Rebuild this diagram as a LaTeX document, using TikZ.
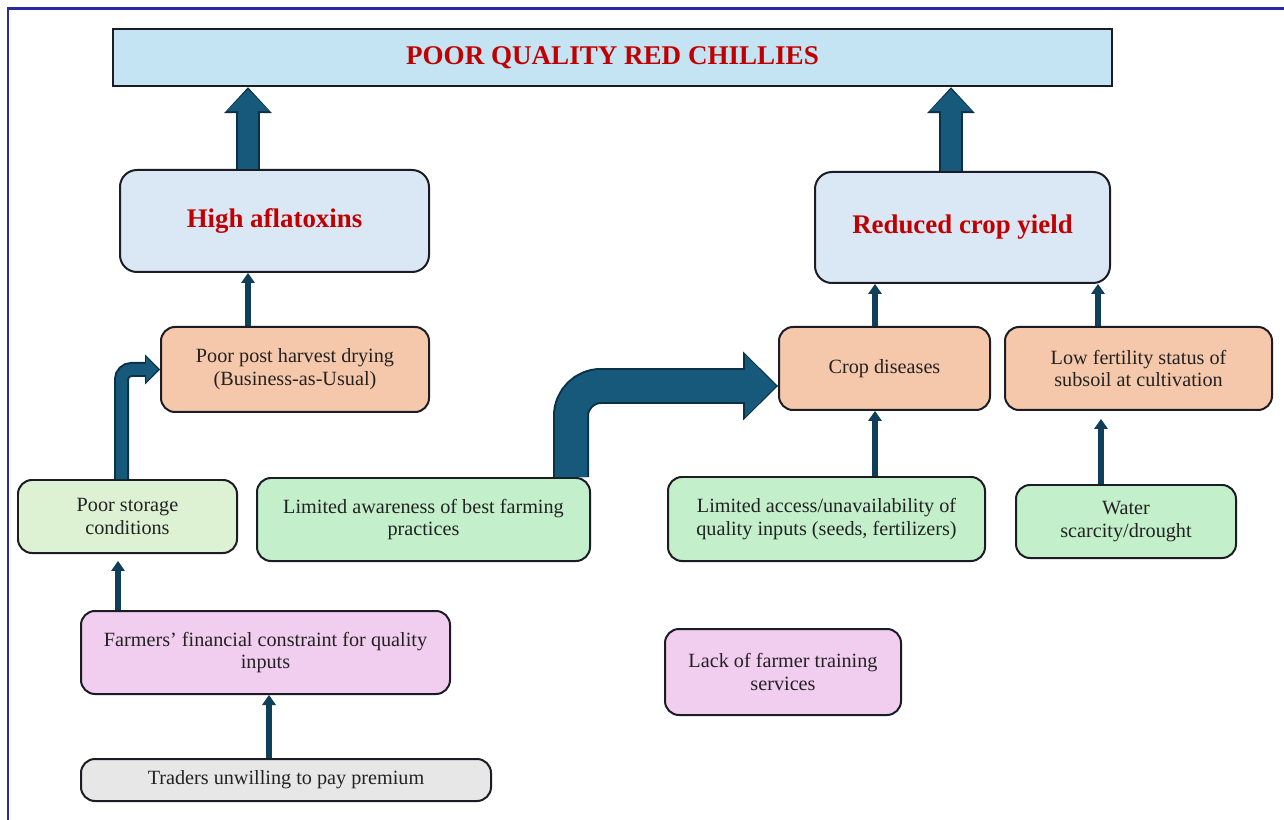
\documentclass[tikz,border=0pt]{standalone}
\usepackage{fontspec}
\setmainfont{Liberation Serif}
\usetikzlibrary{calc,arrows.meta}
\definecolor{titlefill}{HTML}{C5E4F3}
\definecolor{effectfill}{HTML}{DAE8F5}
\definecolor{causefill}{HTML}{F6C8AB}
\definecolor{storagefill}{HTML}{DDF2D3}
\definecolor{rootfill}{HTML}{C3EFCB}
\definecolor{deepfill}{HTML}{F1CDEF}
\definecolor{traderfill}{HTML}{E7E7E7}
\definecolor{chilired}{HTML}{C00000}
\definecolor{bodytext}{HTML}{222222}
\definecolor{boxline}{HTML}{1C1C24}
\definecolor{arrowfill}{HTML}{17597B}
\definecolor{arrowedge}{HTML}{0B3147}
\definecolor{thinblue}{HTML}{103F5A}
\definecolor{frameblue}{HTML}{2A2AA8}

\begin{document}
\begin{tikzpicture}[x=0.02cm,y=-0.02cm,
  box/.style={draw=boxline,line width=0.04cm,rounded corners=0.28cm,align=center,text=bodytext,font=\fontsize{11.5}{13}\selectfont},
  boxsize/.style 2 args={minimum width=#1*0.02cm,minimum height=#2*0.02cm,inner sep=0pt},
  titlebox/.style={draw=boxline,line width=0.05cm,fill=titlefill,text=chilired,font=\bfseries\fontsize{15.4}{18}\selectfont},
  effect/.style={box,rounded corners=0.34cm,fill=effectfill,text=chilired,font=\bfseries\fontsize{15.3}{18}\selectfont},
  cause/.style={box,fill=causefill},
  root/.style={box,fill=rootfill},
  deep/.style={box,fill=deepfill},
  thinarrow/.style={draw=thinblue,line width=0.12cm,-{Triangle[length=0.2cm,width=0.28cm,line width=0pt]}},
  bigedge/.style={draw=arrowedge,line width=0.48cm,-{Triangle[length=0.52cm,width=0.96cm,line width=0pt]}},
  bigfill/.style={draw=arrowfill,line width=0.4cm,shorten >=0.04cm,-{Triangle[length=0.44cm,width=0.86cm,line width=0pt]}},
  midedge/.style={draw=arrowedge,line width=0.3cm,rounded corners=0.2cm,-{Triangle[length=0.3cm,width=0.6cm,line width=0pt]}},
  midfill/.style={draw=arrowfill,line width=0.22cm,rounded corners=0.2cm,shorten >=0.04cm,-{Triangle[length=0.24cm,width=0.5cm,line width=0pt]}},
  hugeedge/.style={draw=arrowedge,line width=0.72cm,rounded corners=0.6cm,-{Triangle[length=0.7cm,width=1.38cm,line width=0pt]}},
  hugefill/.style={draw=arrowfill,line width=0.64cm,rounded corners=0.6cm,shorten >=0.04cm,-{Triangle[length=0.62cm,width=1.26cm,line width=0pt]}},
  frameline/.style={draw=frameblue,line width=0.06cm}]

\fill[white] (0,0) rectangle (1284,820);
\useasboundingbox (0,0) rectangle (1284,820);
\draw[frameline] (8,820) -- (8,9) -- (1284,9);

% effects
\node[titlebox,boxsize={999}{57}] (title) at (612.5,57.5) {POOR QUALITY RED CHILLIES};
\node[effect,boxsize={309}{102}] (high) at (274.5,221) {High aflatoxins};
\node[effect,boxsize={295}{111}] (reduced) at (962.5,227.5) {Reduced crop yield};

% direct causes
\node[cause,boxsize={268}{85}] (drying) at (295,369.5) {Poor post harvest drying\\(Business-as-Usual)};
\node[cause,boxsize={211}{83}] (disease) at (884.5,368.5) {Crop diseases};
\node[cause,boxsize={267}{83}] (fertility) at (1138.5,368.5) {Low fertility status of\\subsoil at cultivation};

% underlying causes
\node[root,fill=storagefill,boxsize={219}{73}] (storage) at (127.5,516.5) {Poor storage\\conditions};
\node[root,boxsize={333}{83}] (awareness) at (423.5,519.5) {Limited awareness of best farming\\practices};
\node[root,boxsize={317}{84}] (access) at (826.5,519) {Limited access/unavailability of\\quality inputs (seeds, fertilizers)};
\node[root,boxsize={220}{73}] (water) at (1126,521.5) {Water\\scarcity/drought};

% root causes
\node[deep,boxsize={369}{83}] (finance) at (265.5,652.5) {Farmers' financial constraint for quality\\inputs};
\node[deep,boxsize={236}{86}] (training) at (783,672) {Lack of farmer training\\services};
\node[box,fill=traderfill,boxsize={410}{42}] (traders) at (286,780) {Traders unwilling to pay premium};

% block arrows to the top
\coordinate (h1) at ($(high.north)+(-26.5,0)$);
\draw[bigedge] (h1) -- (h1 |- title.south);
\draw[bigfill] (h1) -- (h1 |- title.south);
\coordinate (r1) at ($(reduced.north)+(-11.5,0)$);
\draw[bigedge] (r1) -- (r1 |- title.south);
\draw[bigfill] (r1) -- (r1 |- title.south);

% bent arrows
\coordinate (s2) at ($(storage.north)+(-6,0)$);
\draw[midedge] (s2) |- (drying.west);
\draw[midfill] (s2) |- (drying.west);
\coordinate (a1) at ($(awareness.north)+(147.5,0)$);
\coordinate (a2) at ($(disease.west)+(0,17.5)$);
\draw[hugeedge] (a1) |- (a2);
\draw[hugefill] (a1) |- (a2);

% thin arrows
\coordinate (d1) at ($(drying.north)+(-47,0)$);
\draw[thinarrow] (d1) -- (d1 |- high.south);
\coordinate (c1) at ($(disease.north)+(-9.5,0)$);
\draw[thinarrow] (c1) -- (c1 |- reduced.south);
\coordinate (f1) at ($(fertility.north)+(-40.5,0)$);
\draw[thinarrow] (f1) -- (f1 |- reduced.south);
\coordinate (c2) at ($(disease.south)+(-9.5,0)$);
\draw[thinarrow] (c2 |- access.north) -- (c2);
\coordinate (w1) at ($(water.north)+(-25,0)$);
\draw[thinarrow,shorten >=0.16cm] (w1) -- (w1 |- fertility.south);
\coordinate (s1) at ($(storage.south)+(-9.5,0)$);
\draw[thinarrow,shorten >=0.14cm] (s1 |- finance.north) -- (s1);
\coordinate (t1) at ($(traders.north)+(-17,0)$);
\draw[thinarrow] (t1) -- (t1 |- finance.south);
\end{tikzpicture}
\end{document}
